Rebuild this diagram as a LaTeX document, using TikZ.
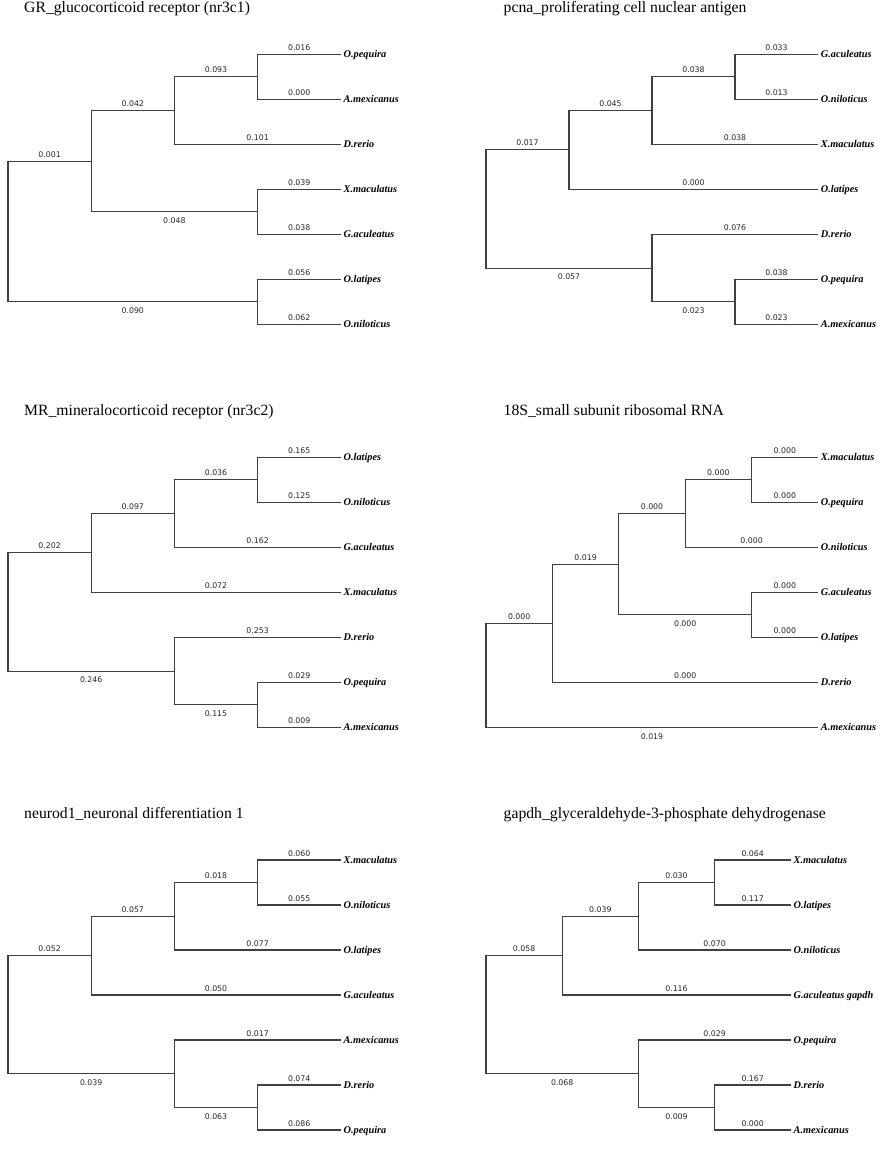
\documentclass[tikz,border=0pt]{standalone}
\usepackage{fontspec}
\setmainfont{Liberation Serif}
\newfontfamily\lenfont{DejaVu Sans}
\usetikzlibrary{positioning}

\begin{document}
\begin{tikzpicture}[x=1pt, y=-1pt,
		branch/.style={draw=black!75, line width=1.1pt},
		blen/.style={font=\lenfont\fontsize{7.8}{9}\selectfont, text=black!85, inner sep=0pt},
		lenup/.style={blen, above=3.3pt},
		lendn/.style={blen, below=5.5pt},
		taxon/.style={font=\fontsize{10.3}{12}\selectfont\bfseries\itshape, inner sep=0pt, anchor=base west, xshift=2.7pt, yshift=-3pt},
		ttl/.style={font=\fontsize{15.7}{18}\selectfont, inner sep=0pt, anchor=base west}]
	\useasboundingbox (0,0) rectangle (884,1150);
	
	% GR
	\begin{scope}[shift={(8,54.3)}]
		\node[ttl] (gr-title) at (16,-41.6) {GR\_glucocorticoid receptor (nr3c1)};
		\foreach \t [count=\i] in {O.pequira, A.mexicanus, D.rerio, X.maculatus, G.aculeatus, O.latipes, O.niloticus} {
			\coordinate (gr-l\i) at (332.8, {45*(\i-1)});
			\node[taxon] (gr-t\i) at (gr-l\i) {\t};
		}
		\coordinate (gr-a) at (249.6, 22.5);
		\coordinate (gr-b) at (166.4, 56.25);
		\coordinate (gr-c) at (249.6, 157.5);
		\coordinate (gr-d) at (83.2, 106.875);
		\coordinate (gr-e) at (249.6, 247.5);
		\coordinate (gr-r) at (0, 177.19);
		
		\draw[branch] (gr-r) |- node[pos=.75, lenup] {0.001} (gr-d);
		\draw[branch] (gr-r) |- node[pos=.75, lendn] {0.090} (gr-e);
		\draw[branch] (gr-d) |- node[pos=.75, lenup] {0.042} (gr-b);
		\draw[branch] (gr-d) |- node[pos=.75, lendn] {0.048} (gr-c);
		\draw[branch] (gr-b) |- node[pos=.75, lenup] {0.093} (gr-a);
		\draw[branch] (gr-b) |- node[pos=.75, lenup] {0.101} (gr-l3);
		\draw[branch] (gr-a) |- node[pos=.75, lenup] {0.016} (gr-l1);
		\draw[branch] (gr-a) |- node[pos=.75, lenup] {0.000} (gr-l2);
		\draw[branch] (gr-c) |- node[pos=.75, lenup] {0.039} (gr-l4);
		\draw[branch] (gr-c) |- node[pos=.75, lenup] {0.038} (gr-l5);
		\draw[branch] (gr-e) |- node[pos=.75, lenup] {0.056} (gr-l6);
		\draw[branch] (gr-e) |- node[pos=.75, lenup] {0.062} (gr-l7);
	\end{scope}
	
	% pcna
	\begin{scope}[shift={(486,54.3)}]
		\node[ttl] (pcna-title) at (17.5,-41.6) {pcna\_proliferating cell nuclear antigen};
		\foreach \t [count=\i] in {G.aculeatus, O.niloticus, X.maculatus, O.latipes, D.rerio, O.pequira, A.mexicanus} {
			\coordinate (pcna-l\i) at (332, {45*(\i-1)});
			\node[taxon] (pcna-t\i) at (pcna-l\i) {\t};
		}
		\coordinate (pcna-a) at (249, 22.5);
		\coordinate (pcna-b) at (166, 56.25);
		\coordinate (pcna-c) at (83, 95.625);
		\coordinate (pcna-e) at (249, 247.5);
		\coordinate (pcna-f) at (166, 213.75);
		\coordinate (pcna-r) at (0, 154.69);
		
		\draw[branch] (pcna-r) |- node[pos=.75, lenup] {0.017} (pcna-c);
		\draw[branch] (pcna-r) |- node[pos=.75, lendn] {0.057} (pcna-f);
		\draw[branch] (pcna-c) |- node[pos=.75, lenup] {0.045} (pcna-b);
		\draw[branch] (pcna-c) |- node[pos=.75, lenup] {0.000} (pcna-l4);
		\draw[branch] (pcna-b) |- node[pos=.75, lenup] {0.038} (pcna-a);
		\draw[branch] (pcna-b) |- node[pos=.75, lenup] {0.038} (pcna-l3);
		\draw[branch] (pcna-a) |- node[pos=.75, lenup] {0.033} (pcna-l1);
		\draw[branch] (pcna-a) |- node[pos=.75, lenup] {0.013} (pcna-l2);
		\draw[branch] (pcna-f) |- node[pos=.75, lenup] {0.076} (pcna-l5);
		\draw[branch] (pcna-f) |- node[pos=.75, lendn] {0.023} (pcna-e);
		\draw[branch] (pcna-e) |- node[pos=.75, lenup] {0.038} (pcna-l6);
		\draw[branch] (pcna-e) |- node[pos=.75, lenup] {0.023} (pcna-l7);
	\end{scope}
	
	% MR
	\begin{scope}[shift={(8,457.3)}]
		\node[ttl] (mr-title) at (16,-41.8) {MR\_mineralocorticoid receptor (nr3c2)};
		\foreach \t [count=\i] in {O.latipes, O.niloticus, G.aculeatus, X.maculatus, D.rerio, O.pequira, A.mexicanus} {
			\coordinate (mr-l\i) at (332.8, {45*(\i-1)});
			\node[taxon] (mr-t\i) at (mr-l\i) {\t};
		}
		\coordinate (mr-a) at (249.6, 22.5);
		\coordinate (mr-b) at (166.4, 56.25);
		\coordinate (mr-c) at (83.2, 95.625);
		\coordinate (mr-e) at (249.6, 247.5);
		\coordinate (mr-f) at (166.4, 213.75);
		\coordinate (mr-r) at (0, 154.69);
		
		\draw[branch] (mr-r) |- node[pos=.75, lenup] {0.202} (mr-c);
		\draw[branch] (mr-r) |- node[pos=.75, lendn] {0.246} (mr-f);
		\draw[branch] (mr-c) |- node[pos=.75, lenup] {0.097} (mr-b);
		\draw[branch] (mr-c) |- node[pos=.75, lenup] {0.072} (mr-l4);
		\draw[branch] (mr-b) |- node[pos=.75, lenup] {0.036} (mr-a);
		\draw[branch] (mr-b) |- node[pos=.75, lenup] {0.162} (mr-l3);
		\draw[branch] (mr-a) |- node[pos=.75, lenup] {0.165} (mr-l1);
		\draw[branch] (mr-a) |- node[pos=.75, lenup] {0.125} (mr-l2);
		\draw[branch] (mr-f) |- node[pos=.75, lenup] {0.253} (mr-l5);
		\draw[branch] (mr-f) |- node[pos=.75, lendn] {0.115} (mr-e);
		\draw[branch] (mr-e) |- node[pos=.75, lenup] {0.029} (mr-l6);
		\draw[branch] (mr-e) |- node[pos=.75, lenup] {0.009} (mr-l7);
	\end{scope}
	
	% 18S
	\begin{scope}[shift={(486,457.3)}]
		\node[ttl] (rna-title) at (17.5,-41.8) {18S\_small subunit ribosomal RNA};
		\foreach \t [count=\i] in {X.maculatus, O.pequira, O.niloticus, G.aculeatus, O.latipes, D.rerio, A.mexicanus} {
			\coordinate (rna-l\i) at (332, {45*(\i-1)});
			\node[taxon] (rna-t\i) at (rna-l\i) {\t};
		}
		\coordinate (rna-a) at (265.6, 22.5);
		\coordinate (rna-b) at (199.2, 56.25);
		\coordinate (rna-g) at (265.6, 157.5);
		\coordinate (rna-c) at (132.8, 106.875);
		\coordinate (rna-d) at (66.4, 165.94);
		\coordinate (rna-r) at (0, 217.97);
		
		\draw[branch] (rna-r) |- node[pos=.75, lenup] {0.000} (rna-d);
		\draw[branch] (rna-r) |- node[pos=.75, lendn] {0.019} (rna-l7);
		\draw[branch] (rna-d) |- node[pos=.75, lenup] {0.019} (rna-c);
		\draw[branch] (rna-d) |- node[pos=.75, lenup] {0.000} (rna-l6);
		\draw[branch] (rna-c) |- node[pos=.75, lenup] {0.000} (rna-b);
		\draw[branch] (rna-c) |- node[pos=.75, lendn] {0.000} (rna-g);
		\draw[branch] (rna-b) |- node[pos=.75, lenup] {0.000} (rna-a);
		\draw[branch] (rna-b) |- node[pos=.75, lenup] {0.000} (rna-l3);
		\draw[branch] (rna-a) |- node[pos=.75, lenup] {0.000} (rna-l1);
		\draw[branch] (rna-a) |- node[pos=.75, lenup] {0.000} (rna-l2);
		\draw[branch] (rna-g) |- node[pos=.75, lenup] {0.000} (rna-l4);
		\draw[branch] (rna-g) |- node[pos=.75, lenup] {0.000} (rna-l5);
	\end{scope}
	
	% neurod1
	\begin{scope}[shift={(8,860)}]
		\node[ttl] (nd-title) at (16,-41.5) {neurod1\_neuronal differentiation 1};
		\foreach \t [count=\i] in {X.maculatus, O.niloticus, O.latipes, G.aculeatus, A.mexicanus, D.rerio, O.pequira} {
			\coordinate (nd-l\i) at (332.8, {45*(\i-1)});
			\node[taxon] (nd-t\i) at (nd-l\i) {\t};
		}
		\coordinate (nd-a) at (249.6, 22.5);
		\coordinate (nd-b) at (166.4, 56.25);
		\coordinate (nd-c) at (83.2, 95.625);
		\coordinate (nd-e) at (249.6, 247.5);
		\coordinate (nd-f) at (166.4, 213.75);
		\coordinate (nd-r) at (0, 154.69);
		
		\draw[branch] (nd-r) |- node[pos=.75, lenup] {0.052} (nd-c);
		\draw[branch] (nd-r) |- node[pos=.75, lendn] {0.039} (nd-f);
		\draw[branch] (nd-c) |- node[pos=.75, lenup] {0.057} (nd-b);
		\draw[branch] (nd-c) |- node[pos=.75, lenup] {0.050} (nd-l4);
		\draw[branch] (nd-b) |- node[pos=.75, lenup] {0.018} (nd-a);
		\draw[branch] (nd-b) |- node[pos=.75, lenup] {0.077} (nd-l3);
		\draw[branch] (nd-a) |- node[pos=.75, lenup] {0.060} (nd-l1);
		\draw[branch] (nd-a) |- node[pos=.75, lenup] {0.055} (nd-l2);
		\draw[branch] (nd-f) |- node[pos=.75, lenup] {0.017} (nd-l5);
		\draw[branch] (nd-f) |- node[pos=.75, lendn] {0.063} (nd-e);
		\draw[branch] (nd-e) |- node[pos=.75, lenup] {0.074} (nd-l6);
		\draw[branch] (nd-e) |- node[pos=.75, lenup] {0.086} (nd-l7);
	\end{scope}
	
	% gapdh
	\begin{scope}[shift={(486,860)}]
		\node[ttl] (gp-title) at (17.5,-41.5) {gapdh\_glyceraldehyde-3-phosphate dehydrogenase};
		\foreach \t [count=\i] in {X.maculatus, O.latipes, O.niloticus, G.aculeatus gapdh, O.pequira, D.rerio, A.mexicanus} {
			\coordinate (gp-l\i) at (304.8, {45*(\i-1)});
			\node[taxon] (gp-t\i) at (gp-l\i) {\t};
		}
		\coordinate (gp-a) at (228.6, 22.5);
		\coordinate (gp-b) at (152.4, 56.25);
		\coordinate (gp-c) at (76.2, 95.625);
		\coordinate (gp-e) at (228.6, 247.5);
		\coordinate (gp-f) at (152.4, 213.75);
		\coordinate (gp-r) at (0, 154.69);
		
		\draw[branch] (gp-r) |- node[pos=.75, lenup] {0.058} (gp-c);
		\draw[branch] (gp-r) |- node[pos=.75, lendn] {0.068} (gp-f);
		\draw[branch] (gp-c) |- node[pos=.75, lenup] {0.039} (gp-b);
		\draw[branch] (gp-c) |- node[pos=.75, lenup] {0.116} (gp-l4);
		\draw[branch] (gp-b) |- node[pos=.75, lenup] {0.030} (gp-a);
		\draw[branch] (gp-b) |- node[pos=.75, lenup] {0.070} (gp-l3);
		\draw[branch] (gp-a) |- node[pos=.75, lenup] {0.064} (gp-l1);
		\draw[branch] (gp-a) |- node[pos=.75, lenup] {0.117} (gp-l2);
		\draw[branch] (gp-f) |- node[pos=.75, lenup] {0.029} (gp-l5);
		\draw[branch] (gp-f) |- node[pos=.75, lendn] {0.009} (gp-e);
		\draw[branch] (gp-e) |- node[pos=.75, lenup] {0.167} (gp-l6);
		\draw[branch] (gp-e) |- node[pos=.75, lenup] {0.000} (gp-l7);
	\end{scope}
\end{tikzpicture}
\end{document}
